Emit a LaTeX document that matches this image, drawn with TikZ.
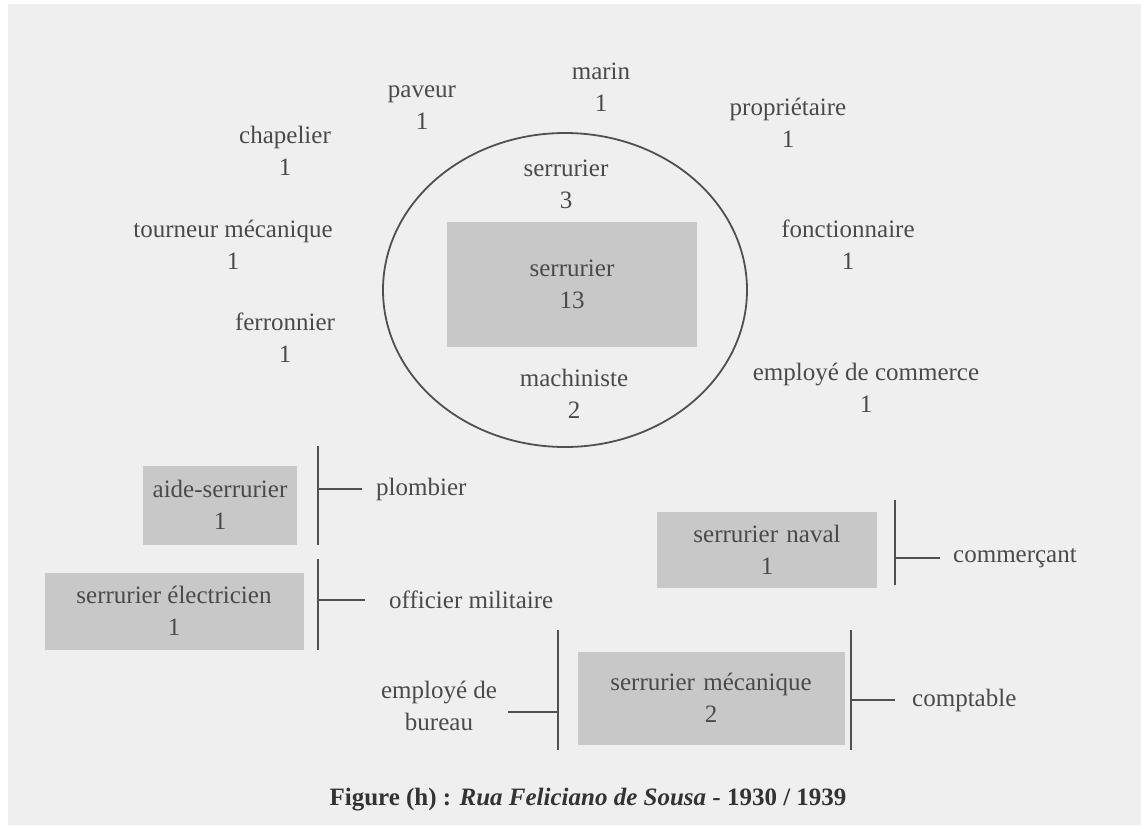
\documentclass[tikz,border=0pt]{standalone}
\usepackage{fontspec}
\setmainfont{Liberation Serif}
\usetikzlibrary{shapes.geometric}
\definecolor{paper}{HTML}{EFEFEF}
\definecolor{boxfill}{HTML}{C8C8C8}
\definecolor{ink}{HTML}{505050}
\definecolor{txt}{HTML}{4A4A4A}
\begin{document}
\begin{tikzpicture}[x=1pt,y=-1pt,
  lbl/.style={text=txt,font=\fontsize{25}{32}\selectfont,align=center,inner sep=0pt},
  gbox/.style={lbl,fill=boxfill,draw=none,minimum width=#1},
  bar/.style={draw=ink,line width=2.2pt},
  link/.style={draw=ink,line width=2pt}
]
% page and paper
\useasboundingbox (0,0) rectangle (1143,825);
\fill[white] (0,0) rectangle (1143,825);
\fill[paper] (8,4) rectangle (1141,825);

% central group
\node[draw=ink,line width=1.8pt,ellipse,minimum width=364pt,minimum height=314pt,inner sep=0pt] (cercle) at (565,290) {};
\node[gbox=250pt,minimum height=125pt] (centre) at (572,284) {serrurier\\13};
\node[lbl] (serr3) at (566,184) {serrurier\\3};
\node[lbl] (machiniste) at (574,394) {machiniste\\2};

% surrounding occupations
\node[lbl] (marin) at (601,87) {marin\\1};
\node[lbl] (paveur) at (422,108) {paveur\\1};
\node[lbl] (proprietaire) at (788,123) {propriétaire\\1};
\node[lbl] (chapelier) at (285,151) {chapelier\\1};
\node[lbl] (tourneur) at (233,245) {tourneur mécanique\\1};
\node[lbl] (fonctionnaire) at (848,245) {fonctionnaire\\1};
\node[lbl] (ferronnier) at (285,338) {ferronnier\\1};
\node[lbl] (empcommerce) at (866,388) {employé de commerce\\1};

% aide-serrurier -- plombier
\node[gbox=154pt,minimum height=79pt] (aide) at (220,505) {aide-serrurier\\1};
\coordinate (aideT) at (318,446);
\coordinate (aideB) at (318,545);
\coordinate (aideM) at (318,489);
\node[lbl,anchor=west] (plombier) at (376,489) {plombier};
\draw[bar] (aideT) -- (aideB);
\draw[link] (aideM) -- ([xshift=-14pt]plombier.west);

% serrurier electricien -- officier militaire
\node[gbox=259pt,minimum height=77pt] (elec) at (174,611) {serrurier électricien\\1};
\coordinate (elecT) at (318,559);
\coordinate (elecB) at (318,650);
\coordinate (elecM) at (318,600);
\node[lbl,anchor=west] (officier) at (389,600) {officier militaire};
\draw[bar] (elecT) -- (elecB);
\draw[link] (elecM) -- ([xshift=-24pt]officier.west);

% serrurier naval -- commercant
\node[gbox=220pt,minimum height=76pt] (naval) at (767,550) {serrurier\,\,naval\\1};
\coordinate (navalT) at (895,500);
\coordinate (navalB) at (895,585);
\coordinate (navalM) at (895,558);
\node[lbl,anchor=west] (commercant) at (953,558) {commerçant};
\draw[bar] (navalT) -- (navalB);
\draw[link] (navalM) -- ([xshift=-13pt]commercant.west);

% serrurier mecanique -- employe de bureau / comptable
\node[gbox=267pt,minimum height=93pt] (meca) at (711,698) {serrurier\,\,mécanique\\2};
\coordinate (mecaLT) at (558,630);
\coordinate (mecaLB) at (558,750);
\coordinate (mecaLM) at (558,712);
\coordinate (mecaRT) at (851,630);
\coordinate (mecaRB) at (851,750);
\coordinate (mecaRM) at (851,700);
\node[lbl] (bureau) at (439,706) {employé de\\bureau};
\coordinate (bureauE) at (508,712);
\node[lbl,anchor=west] (comptable) at (912,700) {comptable};
\draw[bar] (mecaLT) -- (mecaLB);
\draw[bar] (mecaRT) -- (mecaRB);
\draw[link] (mecaLM) -- (bureauE);
\draw[link] (mecaRM) -- ([xshift=-17pt]comptable.west);

% caption
\node[text=black!80,font=\fontsize{25}{30}\selectfont\bfseries,inner sep=0pt] (legende) at (588,800)
  {Figure (h) : \textit{Rua Feliciano de Sousa} - 1930 / 1939};
\end{tikzpicture}
\end{document}
